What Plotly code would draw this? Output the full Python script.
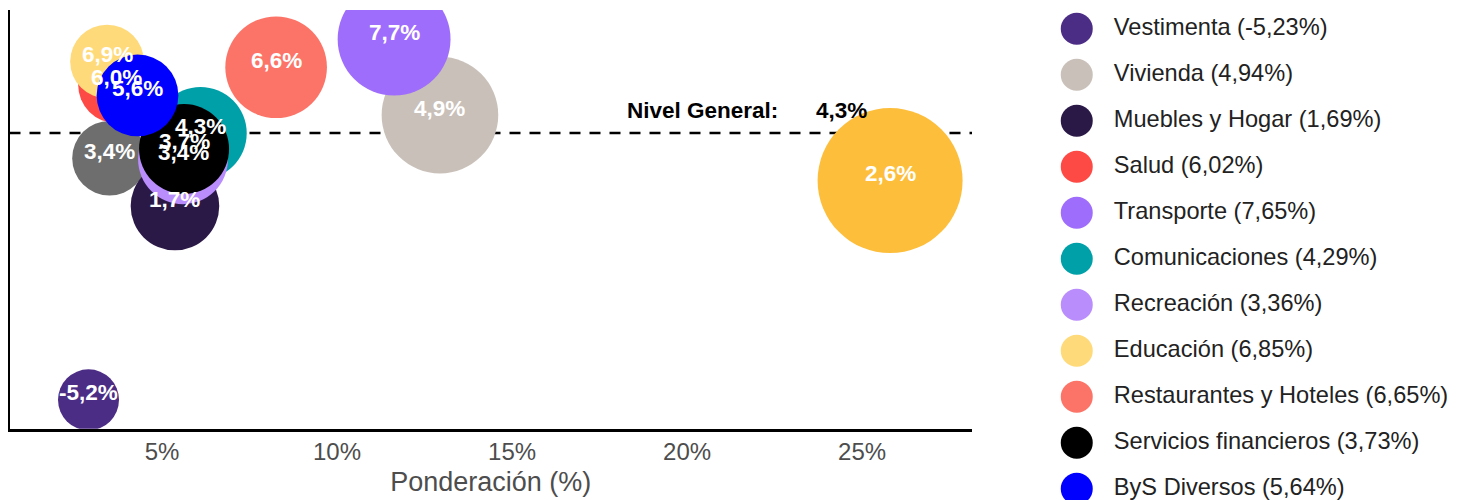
import math
import plotly.graph_objects as go

# ---------------- data ----------------
categorias = [
    "Alimentos y Bebidas no Alcohólicas", "Bebidas Alcohólicas y Tabaco",
    "Vestimenta", "Vivienda", "Muebles y Hogar", "Salud", "Transporte",
    "Comunicaciones", "Recreación", "Educación", "Restaurantes y Hoteles",
    "Servicios financieros", "ByS Diversos",
]
ponderacion = [25.8, 3.5, 2.9, 12.94, 5.37, 3.7, 11.63, 6.1, 5.6, 3.43, 8.26, 5.63, 4.3]
inflacion = [2.6, 3.4, -5.23, 4.94, 1.69, 6.02, 7.652, 4.29, 3.36, 6.853, 6.648, 3.73, 5.64]
en_leyenda = [False, False, True, True, True, True, True, True, True, True, True, True, True]
colores = ["#FDBE3C", "#6E6E6E", "#4C2D86", "#C9C0B9", "#2A1847", "#FD4A45", "#9F6DFB",
           "#00A0A9", "#B98DFC", "#FFDA7A", "#FC7468", "#000000", "#0000FF"]
nivel_general = 4.3
x_ticks = [5, 10, 15, 20, 25]
x_ticklabels = ["5%", "10%", "15%", "20%", "25%"]

FONT = "Liberation Sans, Arial, sans-serif"
# page body has an 8px margin; figure is sized to fill the rest of the window
OFF = 8
W, H = 1458 - OFF, 500 - OFF


def fmt(v, d):
    return f"{v:.{d}f}".replace(".", ",") + "%"


# bubble diameter: area-style scale (like ggplot scale_size)
DMIN, DMAX = 61, 145
wmin, wmax = min(ponderacion), max(ponderacion)
sizes = [DMIN + (DMAX - DMIN) * math.sqrt((w - wmin) / (wmax - wmin)) for w in ponderacion]

fig = go.Figure()
for cat, w, v, c, s in zip(categorias, ponderacion, inflacion, colores, sizes):
    fig.add_trace(go.Scatter(
        x=[w], y=[v], mode="markers", name=cat, showlegend=False,
        marker=dict(size=s, color=c, opacity=1, line=dict(width=0)),
        xaxis="x", yaxis="y",
    ))

# bubble labels (on top of all bubbles)
for w, v in zip(ponderacion, inflacion):
    fig.add_annotation(x=w, y=v, xref="x", yref="y", text=fmt(v, 1), showarrow=False,
                       yshift=7, font=dict(family=FONT, size=22.5, color="white", weight="bold"))

# reference line
fig.add_shape(type="line", xref="x domain", x0=0, x1=1, yref="y", y0=nivel_general, y1=nivel_general,
              line=dict(color="black", width=2.5, dash="11px,9px"), layer="below")
fig.add_annotation(x=20.45, y=nivel_general, xref="x", yref="y", text="Nivel General:", showarrow=False,
                   yshift=22, font=dict(family=FONT, size=22.5, color="black", weight="bold"))
fig.add_annotation(x=24.4, y=nivel_general, xref="x", yref="y", text=fmt(nivel_general, 1), showarrow=False,
                   yshift=22, font=dict(family=FONT, size=22.5, color="black", weight="bold"))

# custom legend (large circles)
leg_idx = [i for i, f in enumerate(en_leyenda) if f]
rows = list(range(len(leg_idx)))
fig.add_trace(go.Scatter(
    x=[0.054] * len(rows), y=rows, mode="markers", showlegend=False, hoverinfo="skip",
    marker=dict(size=32, color=[colores[i] for i in leg_idx], line=dict(width=0)),
    xaxis="x2", yaxis="y2",
))
fig.add_trace(go.Scatter(
    x=[0.146] * len(rows), y=rows, mode="text", showlegend=False, hoverinfo="skip",
    text=[f"{categorias[i]} ({fmt(inflacion[i], 2)})" for i in leg_idx],
    textposition="middle right", cliponaxis=False,
    textfont=dict(family=FONT, size=23.6, color="#222222"),
    xaxis="x2", yaxis="y2",
))

# geometry (page pixels -> figure pixels)
x_left, x_right = 9.5 - OFF, 972 - OFF
y_top, y_bot = 10 - OFF, 428.75 - OFF

fig.update_layout(
    width=W, height=H,
    margin=dict(l=0, r=0, t=0, b=0),
    paper_bgcolor="white", plot_bgcolor="white",
    font=dict(family=FONT),
    showlegend=False,
    xaxis=dict(
        domain=[x_left / W, x_right / W], range=[0.643, 28.14],
        tickvals=x_ticks, ticktext=x_ticklabels, ticks="",
        tickfont=dict(family=FONT, size=24, color="#4d4d4d"),
        showline=True, linecolor="black", linewidth=2.5,
        showgrid=False, zeroline=False, automargin=False,
        title=dict(text="Ponderación (%)", font=dict(family=FONT, size=27, color="#4d4d4d"), standoff=8),
        anchor="y",
    ),
    yaxis=dict(
        domain=[1 - y_bot / H, 1 - y_top / H], range=[-6.2625, 8.693],
        showticklabels=False, ticks="",
        showline=True, linecolor="black", linewidth=2.5,
        showgrid=False, zeroline=False, automargin=False,
        anchor="x",
    ),
    xaxis2=dict(domain=[(1055 - OFF) / W, 1], range=[0, 1], visible=False, anchor="y2", fixedrange=True),
    yaxis2=dict(domain=[0, 1], range=[10.245, -0.45], visible=False, anchor="x2", fixedrange=True),
)

fig.write_html("out.html")
